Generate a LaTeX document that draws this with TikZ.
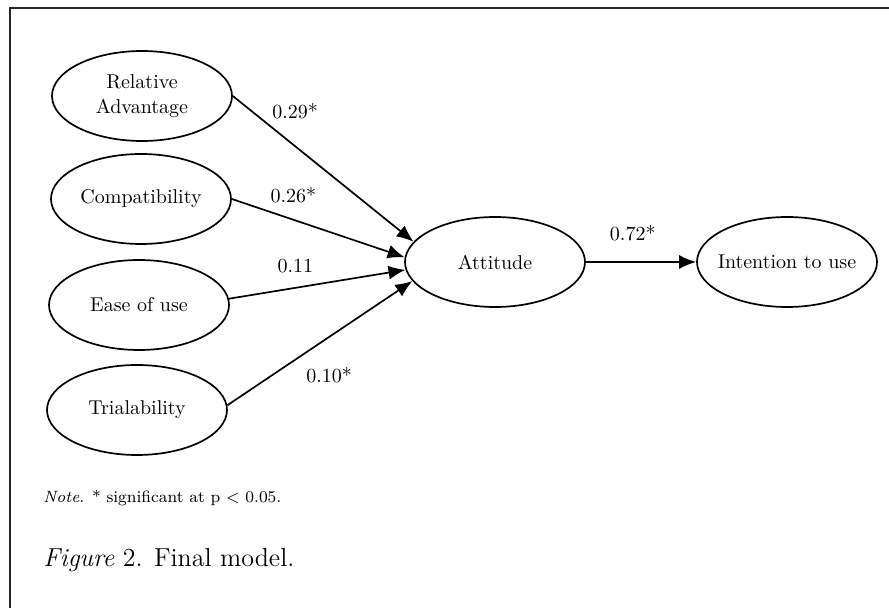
\documentclass[tikz,border=0pt]{standalone}
\usetikzlibrary{arrows.meta,shapes.geometric}

\begin{document}
\begin{tikzpicture}[x=0.5pt,y=-0.5pt]

\tikzstyle{construct} = [ellipse,draw=black,line width=0.85pt,fill=white,inner sep=0,minimum width=90pt,minimum height=45pt,align=center,font=\fontsize{10}{12.5}\selectfont]%
\tikzstyle{effect} = [-{Latex[length=8.5pt,width=7pt]},line width=0.85pt]%
\tikzstyle{coef} = [inner sep=1pt,font=\fontsize{10}{12}\selectfont]%

\useasboundingbox (0,0) rectangle (889,608);
\draw[line width=1pt,black!85] (10,608) -- (10,8) -- (889,8);

\node[construct] (adv) at (142, 96) {Relative\\Advantage};
\node[construct] (comp) at (141, 199) {Compatibility};
\node[construct] (ease) at (139, 305) {Ease of use};
\node[construct] (trial) at (137, 410) {Trialability};

\node[construct] (att) at (495, 262) {Attitude};
\node[construct,inner xsep=-3pt] (int) at (787, 262) {Intention to use};

\draw[effect] (adv.east) --
    node[pos=0.345,coef,yshift=17.5pt] {0.29*}
    (att.166);

\draw[effect] (comp.east) --
    node[pos=0.356,coef,yshift=12.4pt] {0.26*}
    (att.177);

\draw[effect] (ease.4) --
    node[pos=0.376,coef,yshift=11pt] {0.11}
    (att.185);

\draw[effect] (trial.3) --
    node[pos=0.55,coef,yshift=-19pt] {0.10*}
    (att.193);

\draw[effect] (att.east) --
    node[pos=0.425,coef,yshift=14.5pt] {0.72*}
    (int.west);

\node[anchor=base west,inner sep=0,font=\fontsize{8.2}{10}\selectfont] (note) at (43, 503)
    {\textit{Note}. * significant at p \textless{} 0.05.};
\node[anchor=base west,inner sep=0,font=\fontsize{13}{15}\selectfont] (caption) at (43, 567)
    {\textit{Figure} 2. Final model.};

\end{tikzpicture}
\end{document}
